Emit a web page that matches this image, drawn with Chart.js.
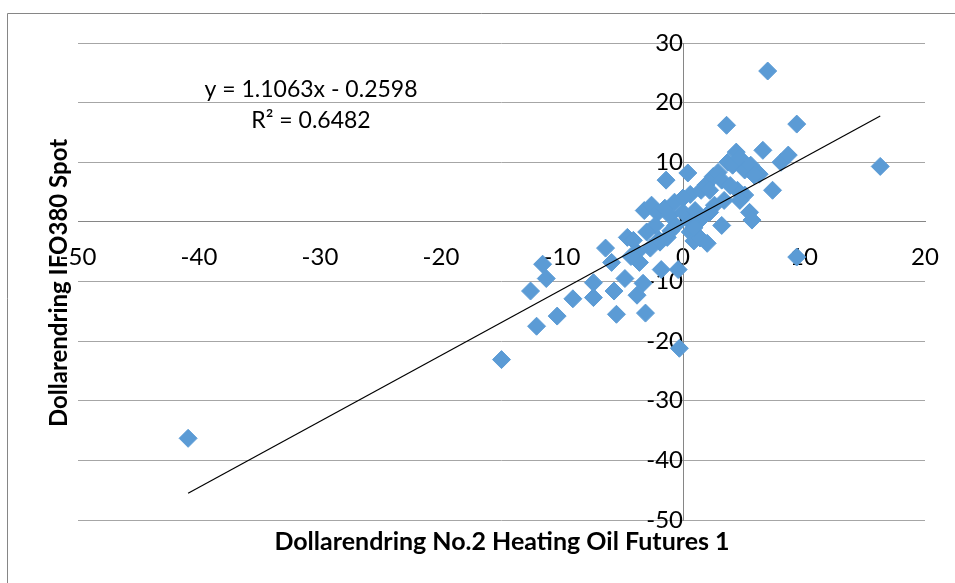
<!DOCTYPE html>
<html>
<head>
<meta charset="utf-8">
<script src="https://cdn.jsdelivr.net/npm/chart.js@4"></script>
<style>
  html, body { margin: 0; padding: 0; background: #fff; }
  #wrap { width: 955px; height: 583px; }
</style>
</head>
<body>
<div id="wrap"><canvas id="myChart" width="955" height="583"></canvas></div>
<script>
// Dollarendring No.2 Heating Oil Futures 1 (x) tegen IFO380 Spot (y)
const xVals = [-40.9, -15.0, -12.1, -12.6, -11.3, -11.6, -10.4, -9.1, -7.4, -7.4,
  -6.4, -5.5, -5.7, -4.8, -4.6, -3.8, -3.8, -3.1, -3.3, -1.8,
  -0.4, -0.3, -1.4, 0.4, -3.2, -2.6, -2.1, -1.5, -1.1, -2.3,
  -3.0, -1.9, -1.3, 0.0, 0.6, 0.9, 1.4, 2.0, 0.6, 1.5,
  1.9, 2.5, 2.9, 3.2, 3.6, 3.7, 4.1, 4.4, 4.7, 5.1,
  5.6, 6.3, 6.6, 7.0, 7.4, 8.1, 8.7, 9.4, 9.4, 16.3,
  5.5, 5.7, 5.1, 4.5, 3.4, 3.2, 2.6, 2.2, 1.4, 0.6,
  -0.7, 0.0, -4.1, -3.6, -2.7, -0.6, 1.0, 3.9, 5.9, 2.2,
  4.7, -5.9, -4.3, -2.0, 0.9, -1.0];
const yVals = [-36.3, -23.1, -17.5, -11.6, -9.5, -7.1, -15.8, -12.9, -10.2, -12.7,
  -4.4, -15.5, -11.6, -9.5, -2.6, -5.1, -12.3, -15.3, -10.3, -8.0,
  -8.0, -21.2, 7.0, 8.2, 1.9, 2.8, 1.5, 2.3, 1.1, -0.6,
  -1.7, -3.4, -2.6, 1.6, -1.7, -3.2, -2.7, -3.6, 4.6, 5.3,
  6.2, 7.6, 8.3, 7.0, 16.2, 10.0, 9.5, 11.7, 10.7, 8.7,
  9.5, 8.0, 12.0, 25.3, 5.3, 10.0, 11.2, 16.4, -5.9, 9.3,
  1.6, 0.3, 4.5, 5.3, 3.6, -0.6, 2.8, 1.6, 0.3, 0.0,
  3.3, 4.0, -3.1, -6.8, -4.4, -0.6, 1.9, 6.1, 7.8, 5.3,
  3.6, -6.8, -5.8, -3.0, -1.0, -1.5];

// Trendlijn zoals Excel hem gaf
const slope = 1.1063;
const intercept = -0.2598;
const eqText = 'y = 1.1063x - 0.2598';
const r2Text = 'R² = 0.6482';

const xTitle = 'Dollarendring No.2 Heating Oil Futures 1';
const yTitle = 'Dollarendring IFO380 Spot';

const points = xVals.map((x, i) => ({ x: x, y: yVals[i] }));
const xMin = Math.min(...xVals);
const xMax = Math.max(...xVals);
const trend = [
  { x: xMin, y: slope * xMin + intercept },
  { x: xMax, y: slope * xMax + intercept }
];

const fontName = 'Lato, "Liberation Sans", sans-serif';

// titels, vergelijking en kader zelf tekenen (assen staan in het midden)
const extras = {
  id: 'extras',
  afterDraw(chart) {
    const c = chart.ctx;
    c.save();
    c.strokeStyle = '#868686';
    c.lineWidth = 1;
    c.beginPath();
    c.moveTo(7.5, 583);
    c.lineTo(7.5, 13.5);
    c.lineTo(955, 13.5);
    c.stroke();

    c.fillStyle = '#000';
    c.textAlign = 'center';
    c.textBaseline = 'middle';
    c.font = '23px ' + fontName;
    c.fillText(eqText, 311, 90);
    c.fillText(r2Text, 311, 121);

    c.font = 'bold 25px ' + fontName;
    c.fillText(xTitle, 502, 542);
    c.font = 'bold 24px ' + fontName;
    c.translate(59, 283);
    c.rotate(-Math.PI / 2);
    c.fillText(yTitle, 0, 0);
    c.restore();
  }
};

new Chart(document.getElementById('myChart'), {
  type: 'scatter',
  data: {
    datasets: [{
      label: 'Trend',
      type: 'line',
      data: trend,
      borderColor: '#000',
      borderWidth: 1.2,
      pointRadius: 0,
      fill: false,
      order: 1
    }, {
      label: 'Data',
      data: points,
      pointStyle: 'rectRot',
      pointRadius: 9,
      backgroundColor: '#5B9BD5',
      borderColor: '#5B9BD5',
      borderWidth: 1,
      order: 2
    }]
  },
  options: {
    responsive: false,
    animation: false,
    layout: { padding: { left: 78, right: 30, top: 43, bottom: 63 } },
    plugins: {
      legend: { display: false },
      tooltip: { enabled: false }
    },
    scales: {
      x: {
        type: 'linear',
        position: { y: 0 },
        min: -50,
        max: 20,
        // geen rasterlijnen, tickLength alleen om labels omlaag te zetten
        grid: { display: false, drawTicks: true, tickLength: 18 },
        border: { display: true, color: '#868686' },
        ticks: {
          stepSize: 10,
          color: '#000',
          padding: 3,
          maxRotation: 0,
          font: { family: fontName, size: 24 }
        }
      },
      y: {
        type: 'linear',
        position: { x: 0 },
        min: -50,
        max: 30,
        grid: { color: '#a6a6a6', drawTicks: false },
        border: { display: true, color: '#868686' },
        ticks: {
          stepSize: 10,
          color: '#000',
          padding: 10,
          font: { family: fontName, size: 24 }
        }
      }
    }
  },
  plugins: [extras]
});
</script>
</body>
</html>
